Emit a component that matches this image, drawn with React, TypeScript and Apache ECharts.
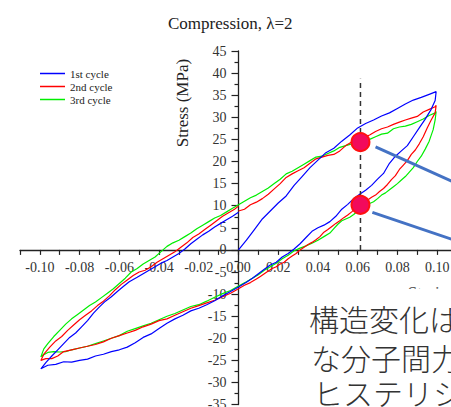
import React, { useEffect, useRef } from 'react';
import * as echarts from 'echarts';

const titleText = 'Compression, λ=2';
const seriesNames = ['1st cycle', '2nd cycle', '3rd cycle'];
const seriesColors = ['#0000ff', '#ff0000', '#00ee00'];

// 1st cycle: 0 -> 0.1 -> -0.1 -> 0
const cycle1: [number, number][] = [
  [0, 0], [0.004, 2.2], [0.008, 4.6], [0.012, 7.0], [0.016, 8.8], [0.020, 10.6], [0.024, 12.2], [0.028, 14.6],
  [0.032, 16.6], [0.036, 18.6], [0.040, 20.3], [0.044, 22.0], [0.048, 23.0], [0.052, 24.6], [0.056, 26.0],
  [0.060, 27.6], [0.064, 28.6], [0.068, 29.4], [0.072, 30.3], [0.076, 31.0], [0.080, 32.0], [0.084, 33.0],
  [0.088, 33.9], [0.092, 34.5], [0.096, 35.2], [0.0995, 35.8],
  [0.099, 33.8], [0.097, 31.8], [0.094, 29.6], [0.091, 27.6], [0.088, 25.6], [0.085, 23.6], [0.082, 22.4],
  [0.079, 21.2], [0.076, 19.6], [0.073, 17.3], [0.070, 16.0], [0.067, 14.6], [0.064, 13.5], [0.061, 12.6],
  [0.058, 11.6], [0.055, 10.3], [0.052, 9.2], [0.049, 7.6], [0.046, 6.4], [0.043, 5.6], [0.040, 5.0],
  [0.037, 4.2], [0.034, 2.8], [0.031, 1.4], [0.028, 0.2], [0.025, -0.8], [0.022, -1.6], [0.019, -2.8],
  [0.016, -3.4], [0.013, -4.4], [0.010, -5.4], [0.007, -6.4], [0.004, -7.3], [0.000, -8.4], [-0.004, -9.4],
  [-0.008, -10.4], [-0.012, -11.5], [-0.016, -12.4], [-0.020, -13.2], [-0.024, -13.8], [-0.028, -14.8],
  [-0.032, -15.6], [-0.036, -16.6], [-0.040, -17.8], [-0.044, -19.0], [-0.048, -19.8], [-0.052, -21.0],
  [-0.056, -22.0], [-0.060, -22.6], [-0.064, -23.0], [-0.068, -23.6], [-0.072, -24.0], [-0.076, -24.7],
  [-0.080, -25.0], [-0.084, -25.4], [-0.088, -25.3], [-0.092, -25.9], [-0.096, -26.1], [-0.0995, -26.9],
  [-0.097, -25.5], [-0.094, -24.0], [-0.091, -22.6], [-0.088, -21.2], [-0.085, -19.8], [-0.082, -18.8],
  [-0.079, -17.4], [-0.076, -16.0], [-0.073, -14.3], [-0.070, -12.9], [-0.067, -11.6], [-0.064, -10.6],
  [-0.061, -9.4], [-0.058, -8.3], [-0.055, -7.2], [-0.051, -6.2], [-0.048, -5.4], [-0.045, -4.6],
  [-0.042, -3.8], [-0.039, -3.0], [-0.036, -2.4], [-0.033, -1.6], [-0.030, -0.8], [-0.027, 0.2],
  [-0.024, 1.4], [-0.021, 2.4], [-0.018, 3.4], [-0.015, 4.2], [-0.012, 5.2], [-0.009, 6.0], [-0.006, 6.8],
  [-0.003, 7.6], [0, 8.5],
];

// 2nd cycle
const cycle2: [number, number][] = [
  [0, 8.8], [0.003, 9.2], [0.006, 10.2], [0.009, 10.8], [0.012, 11.6], [0.015, 12.6], [0.018, 13.8],
  [0.021, 15.0], [0.024, 16.4], [0.027, 17.2], [0.030, 17.9], [0.033, 18.6], [0.036, 19.6], [0.039, 20.6],
  [0.042, 21.0], [0.045, 21.4], [0.048, 21.6], [0.051, 22.4], [0.054, 23.6], [0.057, 24.4], [0.060, 25.0],
  [0.063, 25.4], [0.066, 26.0], [0.069, 26.8], [0.072, 27.4], [0.075, 27.8], [0.078, 28.4], [0.081, 28.9],
  [0.084, 29.4], [0.087, 29.8], [0.090, 30.2], [0.093, 31.2], [0.096, 31.8], [0.099, 32.4], [0.0995, 32.7],
  [0.099, 31.0], [0.097, 29.4], [0.095, 27.6], [0.093, 25.6], [0.091, 24.0], [0.089, 22.6], [0.087, 21.6],
  [0.085, 20.2], [0.083, 19.2], [0.081, 18.2], [0.079, 16.8], [0.077, 15.9], [0.075, 14.8], [0.073, 13.9],
  [0.071, 13.2], [0.069, 12.4], [0.067, 11.9], [0.065, 11.3], [0.063, 10.8], [0.061, 10.2], [0.059, 9.5],
  [0.057, 8.6], [0.055, 7.9], [0.053, 7.3], [0.051, 6.6], [0.049, 6.0], [0.047, 5.3], [0.045, 4.6],
  [0.043, 4.0], [0.041, 3.0], [0.039, 2.3], [0.037, 1.7], [0.035, 1.2], [0.033, 0.6], [0.031, 0.0],
  [0.029, -0.8], [0.027, -1.4], [0.025, -2.0], [0.023, -2.8], [0.021, -3.2], [0.019, -3.8], [0.017, -4.2],
  [0.015, -4.8], [0.013, -5.4], [0.011, -6.0], [0.009, -6.6], [0.006, -7.4], [0.003, -8.0], [0, -8.8],
  [-0.004, -9.8], [-0.008, -10.6], [-0.012, -11.4], [-0.016, -12.0], [-0.020, -12.6], [-0.024, -13.2],
  [-0.028, -14.0], [-0.032, -14.8], [-0.036, -15.6], [-0.040, -16.0], [-0.044, -16.8], [-0.048, -17.4],
  [-0.052, -18.2], [-0.056, -18.8], [-0.060, -19.4], [-0.064, -20.0], [-0.068, -20.8], [-0.072, -21.4],
  [-0.076, -21.8], [-0.080, -22.2], [-0.084, -22.6], [-0.088, -23.0], [-0.091, -24.0], [-0.094, -24.6],
  [-0.097, -24.6], [-0.0995, -25.0],
  [-0.098, -23.6], [-0.095, -22.0], [-0.092, -20.6], [-0.089, -19.6], [-0.086, -18.2], [-0.083, -17.0],
  [-0.080, -15.8], [-0.077, -14.8], [-0.074, -13.8], [-0.071, -12.6], [-0.068, -11.6], [-0.065, -10.4],
  [-0.062, -9.0], [-0.059, -7.8], [-0.056, -6.8], [-0.053, -5.8], [-0.050, -5.0], [-0.047, -4.6],
  [-0.044, -3.8], [-0.041, -2.8], [-0.038, -2.0], [-0.035, -1.2], [-0.032, -0.4], [-0.029, 0.6],
  [-0.026, 1.6], [-0.023, 2.8], [-0.020, 3.6], [-0.017, 4.6], [-0.014, 5.6], [-0.011, 6.6], [-0.008, 7.6],
  [-0.005, 8.4], [-0.002, 9.2], [0, 9.9],
];

// 3rd cycle
const cycle3: [number, number][] = [
  [0, 10.2], [0.003, 11.0], [0.006, 11.8], [0.009, 12.4], [0.012, 13.2], [0.015, 14.0], [0.018, 15.0],
  [0.021, 16.0], [0.024, 17.2], [0.027, 17.8], [0.030, 18.6], [0.033, 19.4], [0.036, 20.2], [0.039, 21.0],
  [0.042, 21.2], [0.045, 21.8], [0.048, 22.4], [0.051, 23.2], [0.054, 23.6], [0.057, 24.0], [0.060, 24.2],
  [0.063, 24.6], [0.066, 25.0], [0.069, 25.6], [0.072, 26.2], [0.075, 26.4], [0.078, 27.4], [0.081, 27.8],
  [0.084, 28.0], [0.087, 28.4], [0.090, 29.0], [0.093, 29.6], [0.096, 30.4], [0.099, 31.0], [0.0995, 31.3],
  [0.099, 29.4], [0.098, 27.2], [0.096, 24.6], [0.094, 22.8], [0.092, 21.2], [0.090, 20.0], [0.088, 18.6],
  [0.086, 17.6], [0.084, 16.6], [0.082, 15.8], [0.080, 15.0], [0.078, 14.3], [0.076, 13.6], [0.074, 12.9],
  [0.072, 12.4], [0.070, 11.6], [0.068, 10.9], [0.066, 10.5], [0.064, 9.9], [0.062, 9.2], [0.060, 8.8],
  [0.058, 8.0], [0.056, 7.4], [0.054, 7.0], [0.052, 6.6], [0.050, 5.8], [0.048, 4.8], [0.046, 3.8],
  [0.043, 3.0], [0.040, 2.2], [0.037, 1.5], [0.034, 0.9], [0.031, 0.4], [0.028, -0.2], [0.025, -1.2],
  [0.022, -2.0], [0.019, -3.0], [0.016, -3.8], [0.013, -4.6], [0.010, -5.6], [0.007, -6.4], [0.004, -7.2],
  [0, -8.2], [-0.004, -9.2], [-0.008, -9.9], [-0.012, -10.7], [-0.016, -11.6], [-0.020, -12.4],
  [-0.024, -12.8], [-0.028, -13.6], [-0.032, -14.4], [-0.036, -15.0], [-0.040, -15.8], [-0.044, -16.6],
  [-0.048, -17.2], [-0.052, -17.8], [-0.056, -18.4], [-0.060, -19.4], [-0.064, -20.0], [-0.068, -20.6],
  [-0.072, -21.2], [-0.076, -21.8], [-0.080, -22.2], [-0.084, -22.6], [-0.087, -23.0], [-0.090, -23.1],
  [-0.093, -23.0], [-0.096, -23.2], [-0.0985, -23.8], [-0.0995, -24.2],
  [-0.098, -22.4], [-0.096, -21.2], [-0.093, -19.6], [-0.090, -18.2], [-0.087, -16.8], [-0.084, -15.6],
  [-0.081, -14.6], [-0.078, -13.6], [-0.075, -12.6], [-0.072, -11.8], [-0.069, -10.8], [-0.066, -9.8],
  [-0.063, -8.8], [-0.060, -7.6], [-0.057, -6.4], [-0.054, -5.0], [-0.051, -4.2], [-0.048, -3.2],
  [-0.045, -2.4], [-0.042, -1.6], [-0.039, -0.4], [-0.036, 0.8], [-0.033, 1.6], [-0.030, 2.2],
  [-0.027, 3.0], [-0.024, 3.8], [-0.021, 4.8], [-0.018, 5.6], [-0.015, 6.4], [-0.012, 7.2], [-0.009, 7.8],
  [-0.006, 8.6], [-0.003, 9.4], [0, 10.2],
];

const markerStrain = 0.0614;
const markerPoints: [number, number][] = [[markerStrain, 24.4], [markerStrain, 10.2]];
const dashedGuide: [number, number][] = [[markerStrain, 0], [markerStrain, 38.7]];
const annotationLine1: [number, number][] = [[0.069, 23.3], [0.11, 15.0]];
const annotationLine2: [number, number][] = [[0.0674, 8.5], [0.11, 2.0]];

const noteLines = ['構造変化は', 'な分子間力', 'ヒステリシス'];

const SERIF = "'Liberation Serif', 'Times New Roman', serif";

// grid geometry (pixels)
const GRID_LEFT = 20;
const GRID_TOP = 51;
const GRID_W = 437;
const GRID_H = 353.6;
const X_MIN = -0.11;
const X_MAX = 0.11;
const Y_MIN = -35;
const Y_MAX = 45;

export default function App() {
  const ref = useRef<HTMLDivElement>(null);
  useEffect(() => {
    document.body.style.margin = '0';
    const chart = echarts.init(ref.current!, null, { renderer: 'svg' });
    const cycles = [cycle1, cycle2, cycle3];
    // move axes to cross at (0,0): offset inward from the grid edges
    const yAxisOffset = -((0 - X_MIN) / (X_MAX - X_MIN)) * GRID_W;
    const xAxisOffset = -((0 - Y_MIN) / (Y_MAX - Y_MIN)) * GRID_H;
    chart.setOption({
      animation: false,
      backgroundColor: '#ffffff',
      title: {
        text: titleText,
        left: 163,
        top: 10,
        textStyle: { fontFamily: SERIF, fontWeight: 'normal', fontSize: 17, color: '#222' },
      },
      legend: {
        data: seriesNames,
        orient: 'vertical',
        left: 35,
        top: 63,
        icon: 'rect',
        itemWidth: 25,
        itemHeight: 1.5,
        itemGap: 2,
        textStyle: { fontFamily: SERIF, fontSize: 11, color: '#222' },
      },
      grid: {
        left: GRID_LEFT,
        top: GRID_TOP,
        width: GRID_W,
        height: GRID_H,
        containLabel: false,
        outerBoundsMode: 'none',
      },
      xAxis: {
        type: 'value',
        position: 'bottom',
        offset: xAxisOffset,
        min: X_MIN,
        max: X_MAX,
        interval: 0.01,
        axisLine: { onZero: false, lineStyle: { color: '#222', width: 1.3 } },
        axisTick: { length: 5, lineStyle: { color: '#222', width: 1.2 } },
        splitLine: { show: false },
        axisLabel: {
          margin: 11,
          fontFamily: SERIF,
          fontSize: 14,
          color: '#333',
          showMinLabel: true,
          showMaxLabel: true,
          formatter: (v: number) => {
            const h = Math.round(v * 100);
            if (h % 2 !== 0) return '';
            const r = h / 100;
            return (r === 0 ? 0 : r).toFixed(2);
          },
        },
      },
      yAxis: {
        type: 'value',
        position: 'left',
        offset: yAxisOffset,
        min: Y_MIN,
        max: Y_MAX,
        interval: 5,
        axisLine: { onZero: false, lineStyle: { color: '#222', width: 1.3 } },
        axisTick: { length: 7, lineStyle: { color: '#222', width: 1.2 } },
        minorTick: { show: true, splitNumber: 2, length: 4, lineStyle: { color: '#222', width: 1.2 } },
        splitLine: { show: false },
        axisLabel: { margin: 12, fontFamily: SERIF, fontSize: 14, color: '#333' },
      },
      series: [
        ...cycles.map((d, i) => ({
          name: seriesNames[i],
          type: 'line',
          data: d,
          symbol: 'none',
          showSymbol: false,
          lineStyle: { color: seriesColors[i], width: 1.2 },
          itemStyle: { color: seriesColors[i] },
          z: 3 + (2 - i),
        })),
        {
          name: 'guide',
          type: 'line',
          data: dashedGuide,
          symbol: 'none',
          lineStyle: { color: '#333', width: 1.5, type: [5, 4] },
          z: 6,
        },
        {
          name: 'markers',
          type: 'scatter',
          data: markerPoints,
          symbol: 'circle',
          symbolSize: 18,
          itemStyle: { color: '#f20a5c', borderColor: '#ff1010', borderWidth: 2, opacity: 1 },
          z: 8,
        },
        {
          name: 'arrow1',
          type: 'line',
          data: annotationLine1,
          symbol: 'none',
          lineStyle: { color: '#4472c4', width: 3 },
          z: 7,
        },
        {
          name: 'arrow2',
          type: 'line',
          data: annotationLine2,
          symbol: 'none',
          lineStyle: { color: '#4472c4', width: 3 },
          z: 7,
        },
      ],
      graphic: [
        {
          type: 'text',
          x: 182,
          y: 103,
          rotation: Math.PI / 2,
          z: 50,
          style: {
            text: 'Stress (MPa)',
            align: 'center',
            verticalAlign: 'middle',
            font: `17px ${SERIF}`,
            fill: '#222',
          },
        },
        {
          type: 'text',
          x: 428,
          y: 284,
          z: 50,
          style: {
            text: 'Strain',
            align: 'center',
            verticalAlign: 'top',
            font: `17px ${SERIF}`,
            fill: '#555',
          },
        },
        {
          type: 'rect',
          z: 100,
          shape: { x: 290, y: 289, width: 170, height: 130 },
          style: { fill: '#ffffff' },
        },
        ...noteLines.map((t, i) => ({
          type: 'text',
          z: 101,
          x: [309, 311, 313][i],
          y: [318, 357, 392][i],
          style: {
            text: t,
            align: 'left',
            verticalAlign: 'middle',
            lineHeight: 30,
            font: `300 30px 'Noto Sans CJK JP Light', 'Noto Sans CJK JP', sans-serif`,
            fill: '#333',
          },
        })),
      ],
    });
    return () => chart.dispose();
  }, []);
  return <div ref={ref} style={{ width: 451, height: 407 }} />;
}
